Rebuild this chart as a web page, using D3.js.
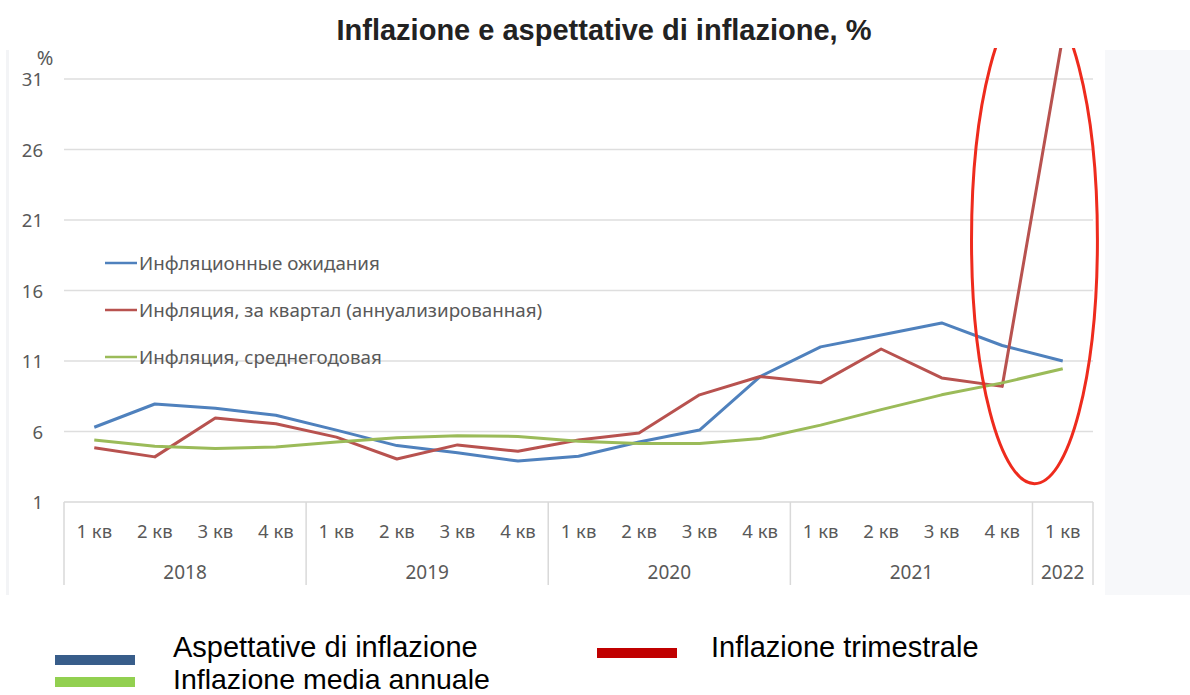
<!DOCTYPE html>
<html lang="it">
<head>
    <meta charset="UTF-8">
    <title>Inflazione e aspettative di inflazione</title>
    <script type="text/javascript" src="https://cdn.jsdelivr.net/npm/d3@7/dist/d3.min.js"></script>
    <style type="text/css">
        body { margin: 0; background: #ffffff; }
        svg { display: block; }
    </style>
</head>
<body>
    <script type="text/javascript">
        //Width and height
        var w = 1190;
        var h = 695;

        //Data
        var quarters = ["1 кв", "2 кв", "3 кв", "4 кв",
            "1 кв", "2 кв", "3 кв", "4 кв",
            "1 кв", "2 кв", "3 кв", "4 кв",
            "1 кв", "2 кв", "3 кв", "4 кв",
            "1 кв"];
        var years = ["2018", "2019", "2020", "2021", "2022"];
        var yearSpans = [4, 4, 4, 4, 1];
        var yTicks = [1, 6, 11, 16, 21, 26, 31];

        var expectations = [6.3, 7.95, 7.65, 7.15, 6.1, 5.0, 4.5, 3.9,
            4.25, 5.25, 6.1, 9.9, 12.0, 12.85, 13.7, 12.1, 11.0];
        var quarterly = [4.85, 4.2, 6.95, 6.55, 5.6, 4.05, 5.05, 4.6,
            5.4, 5.9, 8.6, 9.9, 9.45, 11.85, 9.8, 9.2, 34.0];
        var annualAvg = [5.4, 4.95, 4.8, 4.9, 5.25, 5.55, 5.7, 5.65,
            5.3, 5.15, 5.15, 5.5, 6.45, 7.55, 8.6, 9.45, 10.45];

        var seriesNames = ["Инфляционные ожидания",
            "Инфляция, за квартал (аннуализированная)",
            "Инфляция, среднегодовая"];
        var seriesColors = ["#4f81bd", "#b8524f", "#9bbb59"];

        var legendNames = ["Aspettative di inflazione", "Inflazione trimestrale", "Inflazione media annuale"];
        var legendColors = ["#385d8a", "#c00000", "#92d050"];

        var series = [expectations, quarterly, annualAvg];

        //Scales
        var xScale = d3.scaleBand()
            .domain(d3.range(quarters.length))
            .range([64, 1093]);

        var yScale = d3.scaleLinear()
            .domain([1, 31])
            .range([502, 79]);

        var cx = function(d, i) { return xScale(i) + xScale.bandwidth() / 2; };

        //Create SVG element
        var svg = d3.select("body")
            .append("svg")
            .attr("width", w)
            .attr("height", h);

        //grey side panel and left edge
        svg.append("rect")
            .attr("x", 1105).attr("y", 50)
            .attr("width", 85).attr("height", 545)
            .attr("fill", "#f7f8fa");
        svg.append("rect")
            .attr("x", 6).attr("y", 50)
            .attr("width", 3).attr("height", 545)
            .attr("fill", "#f3f4f6");

        //clip for the plot (chart image starts under the title)
        svg.append("clipPath")
            .attr("id", "plotclip")
            .append("rect")
            .attr("x", 0).attr("y", 48)
            .attr("width", 1105).attr("height", 547);

        //Title
        svg.append("text")
            .text("Inflazione e aspettative di inflazione, %")
            .attr("x", 604)
            .attr("y", 40)
            .attr("text-anchor", "middle")
            .attr("font-family", "Liberation Sans, Arial, sans-serif")
            .attr("font-weight", "bold")
            .attr("font-size", "29px")
            .attr("fill", "#222222");

        //Gridlines
        svg.selectAll("line.grid")
            .data(yTicks.slice(1))
            .enter()
            .append("line")
            .attr("class", "grid")
            .attr("x1", 64)
            .attr("x2", 1093)
            .attr("y1", function(d) { return yScale(d); })
            .attr("y2", function(d) { return yScale(d); })
            .attr("stroke", "#dedede")
            .attr("stroke-width", 1.5);

        //Y labels
        svg.selectAll("text.ytick")
            .data(yTicks)
            .enter()
            .append("text")
            .attr("class", "ytick")
            .text(function(d) { return d; })
            .attr("x", 43)
            .attr("y", function(d) { return yScale(d) + 7; })
            .attr("text-anchor", "end")
            .attr("font-family", "Noto Sans, sans-serif")
            .attr("font-size", "18.5px")
            .attr("fill", "#595959");

        svg.append("text")
            .text("%")
            .attr("x", 45)
            .attr("y", 65)
            .attr("text-anchor", "middle")
            .attr("font-family", "Noto Sans, sans-serif")
            .attr("font-size", "20px")
            .attr("fill", "#595959");

        //X axis box
        var axisColor = "#d9d9d9";
        svg.append("line")
            .attr("x1", 64).attr("x2", 1093)
            .attr("y1", yScale(1)).attr("y2", yScale(1))
            .attr("stroke", axisColor)
            .attr("stroke-width", 1.5);

        var bounds = [0];
        yearSpans.forEach(function(s) { bounds.push(bounds[bounds.length - 1] + s); });

        svg.selectAll("line.sep")
            .data(bounds)
            .enter()
            .append("line")
            .attr("class", "sep")
            .attr("x1", function(d) { return d < quarters.length ? xScale(d) : xScale.range()[1]; })
            .attr("x2", function(d) { return d < quarters.length ? xScale(d) : xScale.range()[1]; })
            .attr("y1", yScale(1))
            .attr("y2", 585)
            .attr("stroke", axisColor)
            .attr("stroke-width", 1.5);

        //quarter labels
        svg.selectAll("text.q")
            .data(quarters)
            .enter()
            .append("text")
            .attr("class", "q")
            .text(function(d) { return d; })
            .attr("x", cx)
            .attr("y", 538)
            .attr("text-anchor", "middle")
            .attr("font-family", "Noto Sans, sans-serif")
            .attr("font-size", "18.5px")
            .attr("fill", "#595959");

        //year labels
        svg.selectAll("text.yr")
            .data(years)
            .enter()
            .append("text")
            .attr("class", "yr")
            .text(function(d) { return d; })
            .attr("x", function(d, i) {
                var a = xScale(bounds[i]);
                var b = bounds[i + 1] < quarters.length ? xScale(bounds[i + 1]) : xScale.range()[1];
                return (a + b) / 2;
            })
            .attr("y", 579)
            .attr("text-anchor", "middle")
            .attr("font-family", "Noto Sans, sans-serif")
            .attr("font-size", "19px")
            .attr("fill", "#595959");

        //Lines
        var line = d3.line()
            .x(function(d, i) { return xScale(i) + xScale.bandwidth() / 2; })
            .y(function(d) { return yScale(d); });

        var plot = svg.append("g").attr("clip-path", "url(#plotclip)");

        plot.selectAll("path.series")
            .data(series)
            .enter()
            .append("path")
            .attr("class", "series")
            .attr("d", line)
            .attr("fill", "none")
            .attr("stroke", function(d, i) { return seriesColors[i]; })
            .attr("stroke-width", 3)
            .attr("stroke-linejoin", "round");

        //Red ellipse around the last quarter
        plot.append("ellipse")
            .attr("cx", xScale(16) + 2)
            .attr("cy", yScale(19.6))
            .attr("rx", xScale.bandwidth() * 1.04)
            .attr("ry", yScale(2.3) - yScale(19.6))
            .attr("fill", "none")
            .attr("stroke", "#ee2b1d")
            .attr("stroke-width", 3);

        //Inner legend (russian)
        var inner = svg.selectAll("g.inner")
            .data(seriesNames)
            .enter()
            .append("g")
            .attr("class", "inner")
            .attr("transform", function(d, i) { return "translate(105," + (263 + i * 47) + ")"; });

        inner.append("line")
            .attr("x1", 0).attr("x2", 32)
            .attr("stroke", function(d, i) { return seriesColors[i]; })
            .attr("stroke-width", 2.5);

        inner.append("text")
            .text(function(d) { return d; })
            .attr("x", 34)
            .attr("y", 7)
            .attr("font-family", "Noto Sans, sans-serif")
            .attr("font-size", "18.8px")
            .attr("fill", "#595959");

        //Bottom legend (italian)
        var legendPos = [[55, 655], [597, 648], [55, 677]];
        var bottom = svg.selectAll("g.bottom")
            .data(legendNames)
            .enter()
            .append("g")
            .attr("class", "bottom")
            .attr("transform", function(d, i) { return "translate(" + legendPos[i][0] + "," + legendPos[i][1] + ")"; });

        bottom.append("rect")
            .attr("width", 80)
            .attr("height", 10)
            .attr("fill", function(d, i) { return legendColors[i]; });

        bottom.append("text")
            .text(function(d) { return d; })
            .attr("x", function(d, i) { return i == 1 ? 114 : 118; })
            .attr("y", function(d, i) { return i == 1 ? 9 : (i == 0 ? 2 : 12); })
            .attr("font-family", "Liberation Sans, Arial, sans-serif")
            .attr("font-size", function(d, i) { return i == 2 ? "28.5px" : "29px"; })
            .attr("fill", "#000000");
    </script>
</body>
</html>
